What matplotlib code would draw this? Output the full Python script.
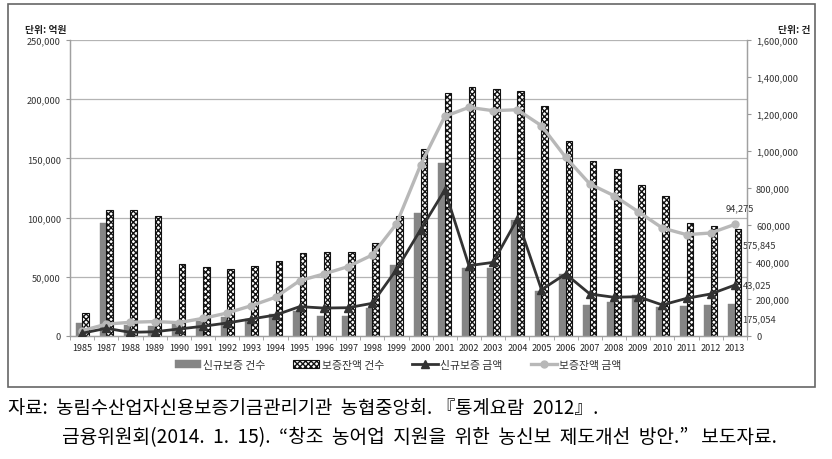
import numpy as np
import matplotlib.pyplot as plt
import matplotlib.patches as patches
from matplotlib.ticker import FuncFormatter, FixedLocator

plt.rcParams['font.family'] = ['Noto Sans CJK KR', 'DejaVu Sans']
plt.rcParams['hatch.linewidth'] = 1.0

# 연도 (1986 없음)
years = ['1985', '1987', '1988', '1989', '1990', '1991', '1992', '1993', '1994', '1995',
         '1996', '1997', '1998', '1999', '2000', '2001', '2002', '2003', '2004', '2005',
         '2006', '2007', '2008', '2009', '2010', '2011', '2012', '2013']
# 건수 (오른쪽 축, 단위: 건)
new_cnt = [72000, 611000, 60000, 56000, 74000, 79000, 104000, 92000, 119000, 133000,
           110000, 110000, 153000, 384000, 665000, 937000, 366000, 369000, 625000, 241000,
           335000, 168000, 185000, 222000, 155000, 160000, 168000, 175054]
bal_cnt = [123000, 683000, 683000, 649000, 388000, 371000, 360000, 377000, 404000, 449000,
           454000, 453000, 503000, 649000, 1009000, 1313000, 1346000, 1335000, 1324000, 1241000,
           1052000, 944000, 903000, 816000, 755000, 611000, 596000, 575845]
# 금액 (왼쪽 축, 단위: 억원)
new_amt = [2300, 6500, 3100, 3600, 5900, 8200, 11000, 14400, 17700, 24800,
           23600, 23900, 27600, 56000, 89800, 123300, 59400, 62200, 98800, 39100,
           52400, 35500, 32700, 33200, 26200, 31800, 35500, 43025]
bal_amt = [4500, 10000, 11600, 12200, 11300, 14900, 19400, 25600, 32700, 46700,
           52400, 58600, 68400, 94600, 144400, 185500, 193100, 190300, 191100, 177600,
           150900, 128400, 118500, 105000, 91200, 85600, 87000, 94275]

left_max = 250000
right_max = 1600000

fig = plt.figure(figsize=(8.32, 4.6), dpi=100)
ax = fig.add_axes([70 / 832, 1 - 337 / 460, 677 / 832, 296 / 460])  # 막대 (오른쪽 축)
ax2 = ax.twinx()  # 선 (왼쪽 축)

x = np.arange(len(years))
w = 0.27

# 격자선 (왼쪽 눈금 위치)
for v in range(50000, left_max + 1, 50000):
    ax.axhline(v * right_max / left_max, color='#b4b4b4', lw=0.9, zorder=0)

b1 = ax.bar(x - w / 2, new_cnt, width=w, color='#858585', edgecolor='#858585', lw=0.3,
            label='신규보증 건수', zorder=2)
b2 = ax.bar(x + w / 2, bal_cnt, width=w, color='white', edgecolor='#111111', hatch='xxxxxx',
            lw=0.8, label='보증잔액 건수', zorder=2)

l1, = ax2.plot(x, new_amt, color='#333333', lw=2.0, marker='^', ms=5.5, label='신규보증 금액', zorder=4)
l2, = ax2.plot(x, bal_amt, color='#b8b8b8', lw=2.4, marker='o', ms=5, label='보증잔액 금액', zorder=3)

ax.set_xlim(-0.5, len(years) - 0.5)
ax.set_ylim(0, right_max)
ax2.set_ylim(0, left_max)

# 축: 막대 축은 오른쪽, 선 축은 왼쪽
ax.yaxis.tick_right()
ax2.yaxis.tick_left()
ax.yaxis.set_major_locator(FixedLocator(range(0, right_max + 1, 200000)))
ax2.yaxis.set_major_locator(FixedLocator(range(0, left_max + 1, 50000)))
fmt = FuncFormatter(lambda v, p: '{:,.0f}'.format(v))
ax.yaxis.set_major_formatter(fmt)
ax2.yaxis.set_major_formatter(fmt)

ax.set_xticks(x)
ax.set_xticklabels(years)
ax.set_xticks(np.arange(-0.5, len(years), 1), minor=True)
ax.tick_params(axis='x', which='major', length=0, labelsize=6.5, colors='#222222', pad=5)
ax.tick_params(axis='x', which='minor', length=3, color='#999999')
ax.tick_params(axis='y', length=3, labelsize=6.7, colors='#333333', color='#999999')
ax2.tick_params(axis='y', length=3, labelsize=6.7, colors='#333333', color='#999999')

for a in (ax, ax2):
    a.spines['top'].set_visible(False)
    for s in ('left', 'right', 'bottom'):
        a.spines[s].set_color('#a0a0a0')
        a.spines[s].set_linewidth(0.9)

fig.text(25 / 832, 1 - 30 / 460, '단위: 억원', fontsize=7, fontweight='bold', color='#222222', va='center')
fig.text(810 / 832, 1 - 30 / 460, '단위: 건', fontsize=7, fontweight='bold', color='#222222',
         va='center', ha='right')

# 2013년 값 표시
last = len(years) - 1
ax2.annotate('94,275', (last, bal_amt[-1]), xytext=(-7, 9), textcoords='offset points',
             fontsize=6.7, color='#333333', ha='left', va='bottom')
ax.annotate('575,845', (last, bal_cnt[-1]), xytext=(6, -8), textcoords='offset points',
            fontsize=6.7, color='#333333', ha='left', va='top')
ax2.annotate('43,025', (last, new_amt[-1]), xytext=(6, 0), textcoords='offset points',
             fontsize=6.7, color='#333333', ha='left', va='center')
ax.annotate('175,054', (last, new_cnt[-1]), xytext=(5, -8), textcoords='offset points',
            fontsize=6.7, color='#333333', ha='left', va='top')

fig.legend([b1, b2, l1, l2], ['신규보증 건수', '보증잔액 건수', '신규보증 금액', '보증잔액 금액'],
           loc='center', bbox_to_anchor=(398 / 832, 1 - 366 / 460), ncol=4, frameon=False,
           fontsize=7.8, handlelength=2.4, handletextpad=0.2, columnspacing=2.6, labelcolor='#333333')

# 차트 테두리
fig.patches.append(patches.Rectangle((8 / 832, 1 - 388 / 460), 807 / 832, 383 / 460,
                                     transform=fig.transFigure, fill=False,
                                     edgecolor='#666666', lw=1.2))

fig.text(8 / 832, 1 - 409 / 460, '자료:  농림수산업자신용보증기금관리기관  농협중앙회. 『통계요람  2012』.',
         fontsize=13.5, color='black', va='center')
fig.text(62 / 832, 1 - 438 / 460,
         '금융위원회(2014.  1.  15).  “창조  농어업  지원을  위한  농신보  제도개선  방안.”   보도자료.',
         fontsize=13.8, color='black', va='center')

fig.savefig('out.png', dpi=100)
